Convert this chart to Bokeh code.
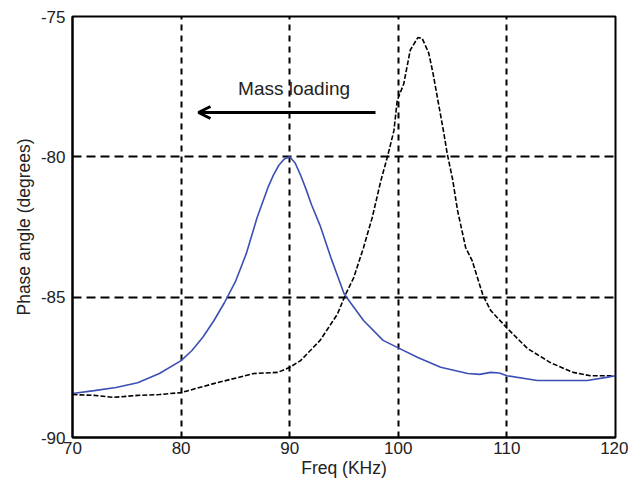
from bokeh.plotting import figure
from bokeh.models import Arrow, OpenHead, Range1d, FixedTicker, Label, CustomJSTickFormatter
from bokeh.embed import file_html
from bokeh.resources import INLINE

blue_x = [70, 72, 74, 76, 78, 80, 81, 82, 83, 84, 85, 86, 87, 88, 88.5, 89, 89.5, 90,
          90.5, 91, 91.5, 92, 92.8, 93.8, 95.0, 95.6, 96.8, 98.6, 99.9, 101.8, 103.9, 106.4,
          107.5, 108.5, 109.3, 110, 112.8, 117.4, 119.3, 120]
blue_y = [-88.43, -88.33, -88.22, -88.05, -87.72, -87.26, -86.9, -86.43, -85.85, -85.19,
          -84.45, -83.45, -82.16, -81.09, -80.65, -80.3, -80.08, -80.0,
          -80.22, -80.65, -81.15, -81.7, -82.45, -83.6, -84.87, -85.2, -85.83, -86.54, -86.79,
          -87.15, -87.5, -87.72, -87.75, -87.68, -87.7, -87.8, -87.97, -87.97, -87.85, -87.8]

black_x = [70, 72, 73.8, 76, 78, 80, 83, 86.7, 88.9, 90, 91, 92.8, 94.4, 95.1, 95.9, 96.8,
           97.6, 98.4, 99.0, 99.6, 99.9, 100.5, 101.1, 101.8, 102.2, 102.8, 103.2, 103.7,
           104.2, 104.5, 105.0, 105.45, 106.2, 106.8, 107.8, 108.5, 110, 111.9, 114,
           116.1, 117.7, 120]
black_y = [-88.47, -88.5, -88.57, -88.5, -88.47, -88.4, -88.08, -87.72, -87.68, -87.5,
           -87.26, -86.54, -85.6, -84.94, -84.3, -83.23, -82.16, -80.84, -80.0, -79.06,
           -77.99, -77.4, -76.2, -75.75, -75.78, -76.3, -77.03, -78.1, -79.17, -79.88,
           -80.8, -81.9, -83.23, -83.7, -84.94, -85.47, -86.1, -86.83, -87.33, -87.68,
           -87.8, -87.8]

x_ticks = [70, 80, 90, 100, 110, 120]
y_ticks = [-90, -85, -80, -75]

FONT = "Liberation Sans"

p = figure(frame_width=543, frame_height=421, output_backend="svg", toolbar_location=None,
           x_range=Range1d(70, 120), y_range=Range1d(-90, -75),
           min_border_left=72, min_border_top=16, min_border_right=13, min_border_bottom=45)
p.background_fill_color = "white"
p.border_fill_color = "white"
p.outline_line_color = "black"
p.outline_line_width = 2

p.xaxis.ticker = FixedTicker(ticks=x_ticks)
p.yaxis.ticker = FixedTicker(ticks=y_ticks)
for ax in (p.xaxis, p.yaxis):
    ax.formatter = CustomJSTickFormatter(code="return tick.toString();")
    ax.axis_line_color = "black"
    ax.axis_line_width = 2
    ax.major_tick_in = 0
    ax.major_tick_out = 0
    ax.minor_tick_line_color = None
    ax.major_label_text_font = FONT
    ax.major_label_text_font_size = "17px"
    ax.major_label_text_color = "#222222"
    ax.axis_label_text_font = FONT
    ax.axis_label_text_font_size = "17.5px"
    ax.axis_label_text_font_style = "normal"
    ax.axis_label_text_color = "#222222"
p.xaxis.axis_label = "Freq (KHz)"
p.yaxis.axis_label = "Phase angle (degrees)"
p.xaxis.major_label_standoff = 4
p.xaxis.axis_label_standoff = 1
p.yaxis.major_label_standoff = 7
p.yaxis.axis_label_standoff = 4

p.xgrid.grid_line_color = "black"
p.xgrid.grid_line_width = 2
p.xgrid.grid_line_dash = "6 5"
p.ygrid.grid_line_color = "black"
p.ygrid.grid_line_width = 2
p.ygrid.grid_line_dash = "9 5"

p.line(black_x, black_y, line_color="black", line_width=1.6, line_dash="5 2")
p.line(blue_x, blue_y, line_color="#3c4fb4", line_width=1.6)

p.add_layout(Arrow(end=OpenHead(size=12, line_width=3, line_color="black"),
                   x_start=97.9, y_start=-78.42, x_end=81.6, y_end=-78.42,
                   line_width=3, line_color="black"))
p.add_layout(Label(x=90.4, y=-77.56, text="Mass loading", text_font=FONT,
                   text_font_size="19px", text_align="center", text_baseline="middle",
                   text_color="#222222"))

open("out.html", "w").write(file_html(p, INLINE))
